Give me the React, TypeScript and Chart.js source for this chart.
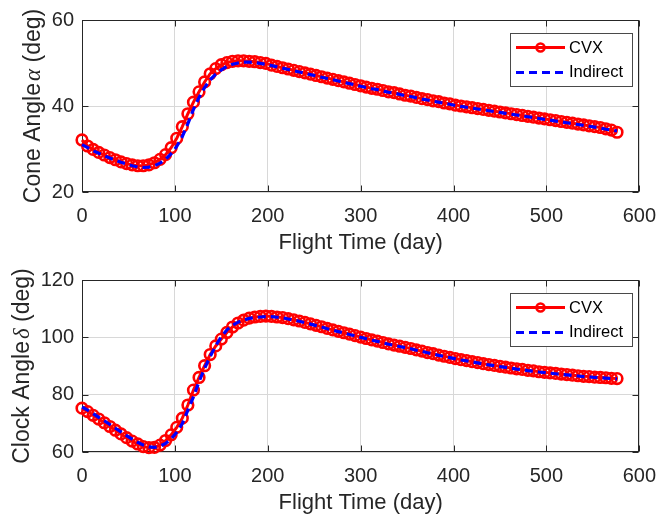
import React, { useEffect, useRef } from "react";
import { Chart, registerables } from "chart.js";

Chart.register(...registerables);

// ---------------- data ----------------
const days = [
  0, 6, 12, 18, 24, 30, 36, 42, 48, 54, 60, 66, 72, 78, 84, 90, 96, 102, 108, 114,
  120, 126, 132, 138, 144, 150, 156, 162, 168, 174, 180, 186, 192, 198, 204, 210, 216, 222, 228, 234,
  240, 246, 252, 258, 264, 270, 276, 282, 288, 294, 300, 306, 312, 318, 324, 330, 336, 342, 348, 354,
  360, 366, 372, 378, 384, 390, 396, 402, 408, 414, 420, 426, 432, 438, 444, 450, 456, 462, 468, 474,
  480, 486, 492, 498, 504, 510, 516, 522, 528, 534, 540, 546, 552, 558, 564, 570, 576,
];

const coneCVX = [
  32.1, 30.7, 29.9, 29.2, 28.6, 28.0, 27.5, 27.0, 26.6, 26.3, 26.1, 26.1, 26.3, 26.8, 27.6, 28.7, 30.3, 32.5, 35.2, 38.2,
  40.9, 43.3, 45.6, 47.5, 48.7, 49.6, 50.1, 50.4, 50.5, 50.5, 50.4, 50.3, 50.1, 49.9, 49.5, 49.2, 48.9, 48.6, 48.3, 48.0,
  47.7, 47.4, 47.1, 46.8, 46.5, 46.2, 45.9, 45.6, 45.3, 45.0, 44.7, 44.4, 44.1, 43.9, 43.6, 43.3, 43.1, 42.8, 42.5, 42.3,
  42.0, 41.7, 41.5, 41.2, 41.0, 40.7, 40.5, 40.2, 40.0, 39.8, 39.6, 39.4, 39.2, 39.0, 38.8, 38.6, 38.4, 38.2, 38.0, 37.8,
  37.6, 37.4, 37.2, 37.0, 36.8, 36.6, 36.4, 36.2, 36.0, 35.8, 35.6, 35.4, 35.2, 35.0, 34.7, 34.4, 33.9,
];

const coneIndirect = [
  31.0, 30.3, 29.6, 29.0, 28.4, 27.9, 27.4, 26.9, 26.5, 26.1, 25.8, 25.7, 25.8, 26.1, 26.7, 27.6, 28.9, 30.6, 32.9, 35.9,
  39.2, 42.0, 44.3, 46.1, 47.4, 48.4, 49.2, 49.7, 50.0, 50.2, 50.2, 50.1, 49.9, 49.7, 49.4, 49.1, 48.8, 48.5, 48.2, 47.9,
  47.6, 47.3, 47.0, 46.7, 46.4, 46.1, 45.8, 45.5, 45.2, 44.9, 44.6, 44.3, 44.0, 43.8, 43.5, 43.2, 43.0, 42.7, 42.4, 42.2,
  41.9, 41.6, 41.4, 41.1, 40.9, 40.6, 40.4, 40.1, 39.9, 39.7, 39.5, 39.3, 39.1, 38.9, 38.7, 38.5, 38.3, 38.1, 37.9, 37.7,
  37.5, 37.3, 37.1, 36.9, 36.7, 36.5, 36.3, 36.1, 35.9, 35.7, 35.5, 35.3, 35.1, 34.9, 34.6, 34.4, 34.2,
];

const clockCVX = [
  75.3, 74.1, 72.8, 71.5, 70.2, 68.9, 67.6, 66.3, 65.0, 63.8, 62.8, 61.9, 61.5, 61.6, 62.4, 64.0, 66.0, 68.6, 71.8, 76.4,
  81.6, 86.0, 90.1, 94.0, 97.0, 99.4, 101.7, 103.6, 105.0, 106.0, 106.7, 107.1, 107.3, 107.4, 107.3, 107.1, 106.9, 106.5, 106.1, 105.7,
  105.2, 104.7, 104.2, 103.7, 103.1, 102.6, 102.1, 101.6, 101.1, 100.6, 100.1, 99.6, 99.1, 98.7, 98.2, 97.7, 97.3, 96.9, 96.5, 96.1,
  95.6, 95.2, 94.7, 94.3, 93.8, 93.4, 93.0, 92.6, 92.2, 91.9, 91.5, 91.2, 90.8, 90.5, 90.2, 89.9, 89.6, 89.3, 89.0, 88.8,
  88.5, 88.3, 88.0, 87.8, 87.6, 87.4, 87.2, 87.0, 86.8, 86.6, 86.4, 86.3, 86.1, 86.0, 85.9, 85.7, 85.6,
];

const clockIndirect = [
  75.7, 74.6, 73.4, 72.1, 70.9, 69.6, 68.3, 67.0, 65.7, 64.5, 63.4, 62.4, 61.8, 61.6, 62.0, 63.0, 64.6, 66.9, 69.9, 74.6,
  79.2, 84.5, 89.2, 93.3, 97.1, 100.2, 102.6, 104.2, 105.3, 106.0, 106.6, 106.9, 107.1, 107.2, 107.2, 107.0, 106.8, 106.4, 106.0, 105.6,
  105.1, 104.6, 104.1, 103.6, 103.0, 102.5, 102.0, 101.5, 101.0, 100.5, 100.0, 99.5, 99.0, 98.6, 98.1, 97.6, 97.2, 96.8, 96.4, 96.0,
  95.5, 95.1, 94.6, 94.2, 93.7, 93.3, 92.9, 92.5, 92.1, 91.8, 91.4, 91.1, 90.7, 90.4, 90.1, 89.8, 89.5, 89.2, 88.9, 88.7,
  88.4, 88.2, 87.9, 87.7, 87.5, 87.3, 87.1, 86.9, 86.7, 86.5, 86.3, 86.2, 86.0, 85.9, 85.8, 85.6, 85.5,
];

const xTicks = [0, 100, 200, 300, 400, 500, 600];
const coneTicks = [20, 40, 60];
const clockTicks = [60, 80, 100, 120];
const seriesNames = ["CVX", "Indirect"];
const xTitle = "Flight Time (day)";
const coneTitle = ["Cone Angle", "α", " (deg)"];
const clockTitle = ["Clock Angle", "δ", " (deg)"];

// ---------------- styling ----------------
const FONT = '"Liberation Sans", Arial, Helvetica, sans-serif';
const AXIS_COLOR = "#262626";
const GRID_COLOR = "#d8d8d8";
const RED = "#ff0000";
const BLUE = "#0000ff";
const DASH = [8, 5];

function makePlugin(titleParts: string[], titleX: number) {
  return {
    id: "matlabStyle",
    beforeDatasetsDraw(chart: any) {
      const { ctx, chartArea: a, scales } = chart;
      const L = Math.round(a.left) + 0.5;
      const R = Math.round(a.right) - 0.5;
      const T = Math.round(a.top) + 0.5;
      const B = Math.round(a.bottom) - 0.5;
      ctx.save();
      ctx.strokeStyle = AXIS_COLOR;
      ctx.lineWidth = 1;
      ctx.strokeRect(L, T, R - L, B - T);
      const tl = 6;
      ctx.beginPath();
      for (const t of scales.x.ticks) {
        const px = Math.round(scales.x.getPixelForValue(t.value)) + 0.5;
        ctx.moveTo(px, B);
        ctx.lineTo(px, B - tl);
        ctx.moveTo(px, T);
        ctx.lineTo(px, T + tl);
      }
      for (const t of scales.y.ticks) {
        const py = Math.round(scales.y.getPixelForValue(t.value)) + 0.5;
        ctx.moveTo(L, py);
        ctx.lineTo(L + tl, py);
        ctx.moveTo(R, py);
        ctx.lineTo(R - tl, py);
      }
      ctx.stroke();
      ctx.restore();
    },
    afterDraw(chart: any) {
      const { ctx, chartArea: a } = chart;
      ctx.save();
      // y-axis title (rotated, with italic greek letter)
      const fonts = [
        `23px ${FONT}`,
        `italic 23px "Liberation Serif", "DejaVu Serif", serif`,
        `23px ${FONT}`,
      ];
      const gap = 2;
      const widths = titleParts.map((p, i) => {
        ctx.font = fonts[i];
        return ctx.measureText(p).width;
      });
      const total = widths.reduce((s, w) => s + w, 0) + gap;
      ctx.translate(titleX, (a.top + a.bottom) / 2);
      ctx.rotate(-Math.PI / 2);
      ctx.fillStyle = AXIS_COLOR;
      ctx.textBaseline = "middle";
      ctx.textAlign = "left";
      let x = -total / 2;
      titleParts.forEach((p, i) => {
        ctx.font = fonts[i];
        ctx.fillText(p, x, 0);
        x += widths[i] + (i === 0 ? gap : 0);
      });
      ctx.restore();

      // legend
      ctx.save();
      const bx = 510, by = 33, bw = 123, bh = 54;
      ctx.fillStyle = "#ffffff";
      ctx.fillRect(bx, by, bw, bh);
      ctx.strokeStyle = "#4a4a4a";
      ctx.lineWidth = 1;
      ctx.strokeRect(bx + 0.5, by + 0.5, bw - 1, bh - 1);
      const x0 = 516, x1 = 565;
      const y0 = 47.5, y1 = 72.5;
      ctx.strokeStyle = RED;
      ctx.lineWidth = 3;
      ctx.beginPath();
      ctx.moveTo(x0, y0);
      ctx.lineTo(x1, y0);
      ctx.stroke();
      ctx.lineWidth = 2.5;
      ctx.beginPath();
      ctx.arc((x0 + x1) / 2, y0, 4, 0, Math.PI * 2);
      ctx.stroke();
      ctx.strokeStyle = BLUE;
      ctx.lineWidth = 3;
      ctx.setLineDash(DASH);
      ctx.beginPath();
      ctx.moveTo(x0, y1);
      ctx.lineTo(x1, y1);
      ctx.stroke();
      ctx.setLineDash([]);
      ctx.fillStyle = "#000000";
      ctx.font = `16.5px ${FONT}`;
      ctx.textBaseline = "middle";
      ctx.textAlign = "left";
      ctx.fillText(seriesNames[0], 569, y0 + 0.5);
      ctx.fillText(seriesNames[1], 569, y1);
      ctx.restore();
    },
  };
}

function buildChart(
  canvas: HTMLCanvasElement,
  cvx: number[],
  ind: number[],
  yTicks: number[],
  titleParts: string[],
  titleX: number
) {
  return new Chart(canvas, {
    type: "line",
    data: {
      datasets: [
        {
          label: seriesNames[1],
          data: days.map((d, i) => ({ x: d, y: ind[i] })),
          borderColor: BLUE,
          borderWidth: 3.2,
          borderDash: DASH,
          pointRadius: 0,
          fill: false,
          tension: 0,
          clip: false,
          order: 0,
        },
        {
          label: seriesNames[0],
          data: days.map((d, i) => ({ x: d, y: cvx[i] })),
          borderColor: RED,
          borderWidth: 3,
          pointRadius: 5.3,
          pointBorderWidth: 2.6,
          pointBorderColor: RED,
          pointBackgroundColor: "rgba(0,0,0,0)",
          pointStyle: "circle",
          fill: false,
          tension: 0,
          clip: false,
          order: 1,
        },
      ],
    },
    options: {
      animation: false,
      responsive: false,
      maintainAspectRatio: false,
      devicePixelRatio: 1,
      events: [],
      layout: { padding: { left: 0, right: 21, top: 16, bottom: 0 } },
      plugins: { legend: { display: false }, tooltip: { enabled: false } },
      scales: {
        x: {
          type: "linear",
          min: xTicks[0],
          max: xTicks[xTicks.length - 1],
          afterBuildTicks: (s: any) => {
            s.ticks = xTicks.map((v) => ({ value: v }));
          },
          afterFit: (s: any) => {
            s.height = 68;
          },
          grid: { color: GRID_COLOR, lineWidth: 1, drawTicks: false },
          border: { display: false },
          ticks: {
            padding: 12,
            color: AXIS_COLOR,
            font: { family: FONT, size: 20 },
            maxRotation: 0,
            autoSkip: false,
          },
          title: {
            display: true,
            text: xTitle,
            color: AXIS_COLOR,
            font: { family: FONT, size: 22 },
            padding: { top: 0, bottom: 4 },
          },
        },
        y: {
          type: "linear",
          min: yTicks[0],
          max: yTicks[yTicks.length - 1],
          afterBuildTicks: (s: any) => {
            s.ticks = yTicks.map((v) => ({ value: v }));
          },
          afterFit: (s: any) => {
            s.width = 82;
          },
          grid: { color: GRID_COLOR, lineWidth: 1, drawTicks: false },
          border: { display: false },
          ticks: {
            padding: 8,
            color: AXIS_COLOR,
            font: { family: FONT, size: 20 },
            autoSkip: false,
          },
        },
      },
    } as any,
    plugins: [makePlugin(titleParts, titleX)],
  });
}

function Panel(props: {
  cvx: number[];
  ind: number[];
  yTicks: number[];
  title: string[];
  titleX: number;
  top: number;
}) {
  const ref = useRef<HTMLCanvasElement>(null);
  useEffect(() => {
    if (!ref.current) return;
    const chart = buildChart(ref.current, props.cvx, props.ind, props.yTicks, props.title, props.titleX);
    return () => chart.destroy();
  }, []);
  return (
    <canvas
      ref={ref}
      width={668}
      height={260}
      style={{ position: "absolute", left: 0, top: props.top, width: 668, height: 260 }}
    />
  );
}

export default function App() {
  return (
    <div
      style={{
        position: "fixed",
        left: 0,
        top: 0,
        width: 668,
        height: 520,
        background: "#ffffff",
        overflow: "hidden",
      }}
    >
      <Panel cvx={coneCVX} ind={coneIndirect} yTicks={coneTicks} title={coneTitle} titleX={34} top={0} />
      <Panel cvx={clockCVX} ind={clockIndirect} yTicks={clockTicks} title={clockTitle} titleX={23} top={260} />
    </div>
  );
}
